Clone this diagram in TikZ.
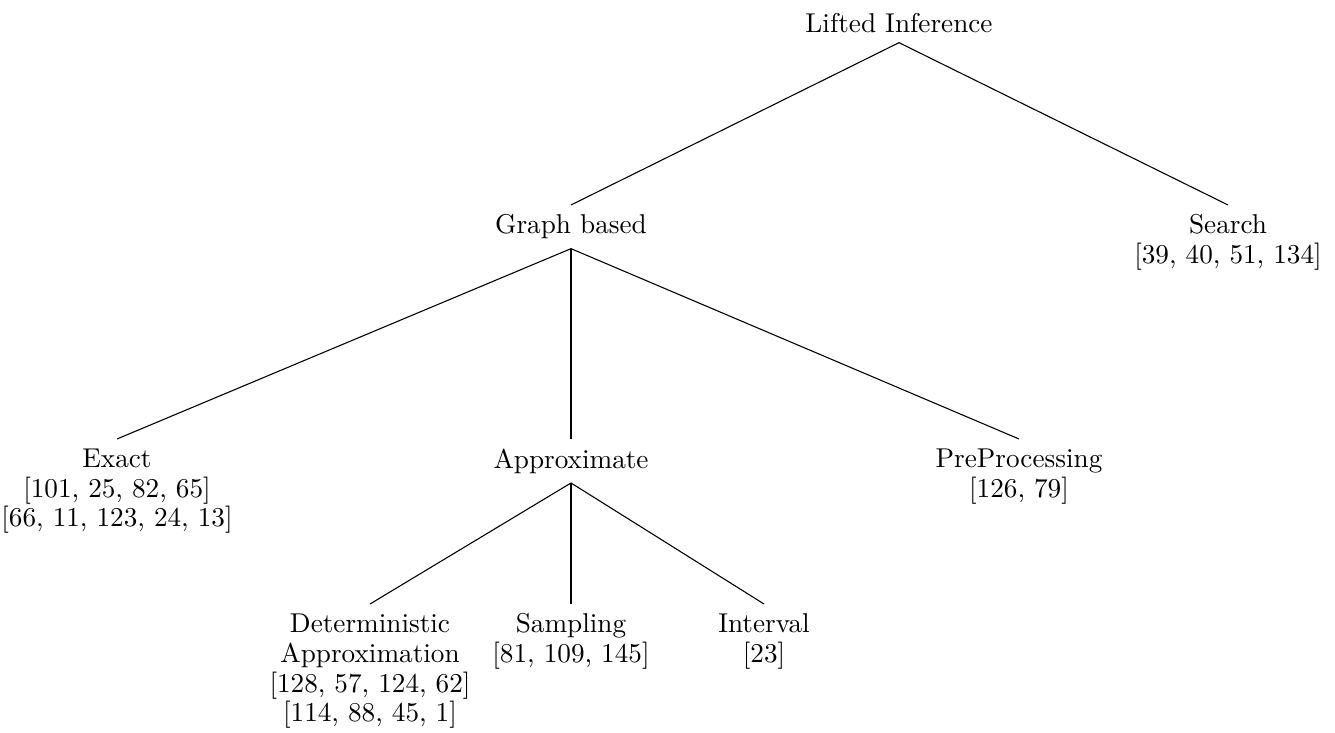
\documentclass[tikz,border=0pt]{standalone}
\begin{document}
\begin{tikzpicture}[x=0.3676pt, y=-0.3676pt,
  tn/.style={anchor=north, align=center, inner sep=3.33pt, font={\fontsize{10}{11}\selectfont}},
  edge/.style={line width=0.4pt}]
\useasboundingbox (0,0) rectangle (1335,733);
\node[tn] (li) at (899,4) {Lifted Inference};
\node[tn] (gb) at (571,205) {Graph based};
\node[tn] (se) at (1228,205) {Search\\{}[39, 40, 51, 134]};
\node[tn] (ex) at (117,439) {Exact\\{}[101, 25, 82, 65]\\{}[66, 11, 123, 24, 13]};
\node[tn] (ap) at (571,439) {Approximate};
\node[tn] (pp) at (1019,439) {PreProcessing\\{}[126, 79]};
\node[tn] (da) at (370,604) {Deterministic\\Approximation\\{}[128, 57, 124, 62]\\{}[114, 88, 45, 1]};
\node[tn] (sa) at (571,604) {Sampling\\{}[81, 109, 145]};
\node[tn] (iv) at (764,604) {Interval\\{}[23]};
\draw[edge] (li.south) -- (gb.north);
\draw[edge] (li.south) -- (se.north);
\draw[edge] (gb.south) -- (ex.north);
\draw[edge] (gb.south) -- (ap.north);
\draw[edge] (gb.south) -- (pp.north);
\draw[edge] (ap.south) -- (da.north);
\draw[edge] (ap.south) -- (sa.north);
\draw[edge] (ap.south) -- (iv.north);
\end{tikzpicture}
\end{document}
